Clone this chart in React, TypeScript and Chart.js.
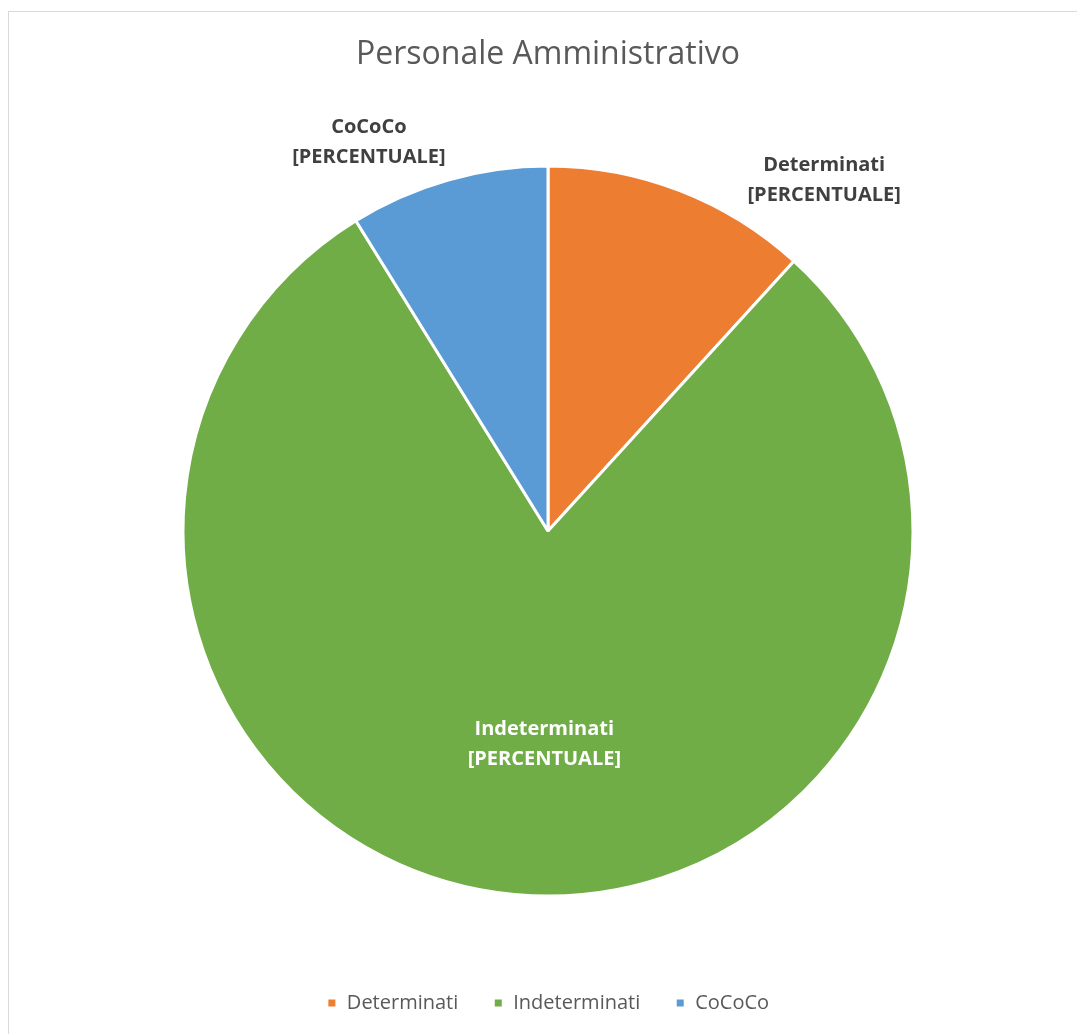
import React, { useEffect, useRef } from "react";
import { Chart, registerables } from "chart.js";

Chart.register(...registerables);

const chartTitle = "Personale Amministrativo";
const categories = ["Determinati", "Indeterminati", "CoCoCo"];
const values = [4, 27, 3];
const sliceColors = ["#ED7D31", "#70AD47", "#5B9BD5"];
const labelSuffix = "[PERCENTUALE]";

const FONT = "'Open Sans', 'Noto Sans', sans-serif";

// label placement: angle (deg from top, clockwise) and radius factor
const labelPlacement = [
  { angle: 38, factor: 1.229, color: "#404040" },
  { angle: 181, factor: 0.576, color: "#FFFFFF" },
  { angle: -24.6, factor: 1.179, color: "#404040" },
];

const dataLabelsPlugin = {
  id: "pieDataLabels",
  afterDatasetsDraw(chart: any) {
    const meta = chart.getDatasetMeta(0);
    const ctx = chart.ctx;
    ctx.save();
    ctx.font = `bold 20px ${FONT}`;
    ctx.textAlign = "center";
    ctx.textBaseline = "middle";
    meta.data.forEach((arc: any, i: number) => {
      const p = labelPlacement[i];
      const r = arc.outerRadius * p.factor;
      const a = (p.angle * Math.PI) / 180;
      const x = arc.x + r * Math.sin(a);
      const y = arc.y - r * Math.cos(a) + 3;
      ctx.fillStyle = p.color;
      ctx.fillText(categories[i], x, y - 15);
      ctx.fillText(labelSuffix, x, y + 15);
    });
    ctx.restore();
  },
};

export default function App() {
  const canvasRef = useRef<HTMLCanvasElement | null>(null);

  useEffect(() => {
    if (!canvasRef.current) return;
    const chart = new Chart(canvasRef.current, {
      type: "pie",
      data: {
        labels: categories,
        datasets: [
          {
            data: values,
            backgroundColor: sliceColors,
            borderColor: "#FFFFFF",
            borderWidth: 3,
            hoverOffset: 0,
            offset: 0,
          },
        ],
      },
      options: {
        responsive: false,
        animation: false,
        events: [],
        layout: {
          padding: { left: 181.5, right: 162.5, top: 0, bottom: 11 },
        },
        plugins: {
          title: {
            display: true,
            text: chartTitle,
            color: "#595959",
            font: { family: FONT, size: 32, weight: "normal" },
            padding: { top: 36, bottom: 29.6 },
          },
          legend: {
            display: true,
            position: "bottom",
            labels: {
              color: "#595959",
              font: { family: FONT, size: 20 },
              boxWidth: 10,
              boxHeight: 10,
              padding: 35,
            },
          },
          tooltip: { enabled: false },
        },
      },
      plugins: [dataLabelsPlugin],
    });
    return () => chart.destroy();
  }, []);

  return (
    <div
      style={{
        position: "fixed",
        left: 0,
        top: 0,
        width: 1077,
        height: 1034,
        background: "#FFFFFF",
        overflow: "hidden",
      }}
    >
      <div
        style={{
          position: "absolute",
          left: 8,
          top: 11,
          width: 1069,
          height: 1023,
          borderLeft: "1px solid #D9D9D9",
          borderTop: "1px solid #D9D9D9",
          boxSizing: "border-box",
        }}
      />
      <canvas
        ref={canvasRef}
        width={1077}
        height={1034}
        style={{ position: "absolute", left: 0, top: 0, width: 1077, height: 1034 }}
      />
    </div>
  );
}
